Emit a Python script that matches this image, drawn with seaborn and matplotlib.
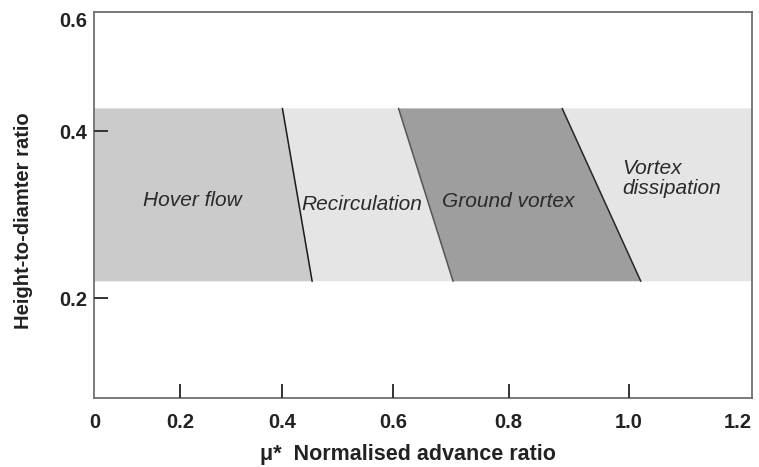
import numpy as np
import pandas as pd
import matplotlib
matplotlib.use("Agg")
import matplotlib.pyplot as plt
import seaborn as sns

# Axis ticks
x_ticks = [0, 0.2, 0.4, 0.6, 0.8, 1.0, 1.2]
x_tick_labels = ["0", "0.2", "0.4", "0.6", "0.8", "1.0", "1.2"]
y_ticks = [0.2, 0.4, 0.6]
y_tick_labels = ["0.2", "0.4", "0.6"]

# Height band covered by the flow-regime map
band_bottom = 0.216
band_top = 0.436

# Regime boundaries: advance ratio at the top and bottom of the band
edge_at_top = [0.40, 0.61, 0.89]
edge_at_bottom = [0.455, 0.705, 1.02]

regime_names = ["Hover flow", "Recirculation", "Ground vortex", "Vortex\ndissipation"]
regime_label_x = [0.225, 0.545, 0.800, 0.99]
regime_label_y = [0.305, 0.300, 0.303, 0.333]
regime_colors = ["#cbcbcb", "#e5e5e5", "#9e9e9e", "#e5e5e5"]
edge_colors = ["#1a1a1a", "#555555", "#262626"]

x_min, x_max = 0.0, 1.2
y_min, y_max = 0.124, 0.615

sns.set_theme(style="white")
plt.rcParams["font.family"] = ["Liberation Sans", "DejaVu Sans"]


# Stretched axes of the schematic
def x_fwd(v):
    v = np.asarray(v, dtype=float)
    return np.sign(v) * np.abs(v) ** 1.14


def x_inv(v):
    v = np.asarray(v, dtype=float)
    return np.sign(v) * np.abs(v) ** (1 / 1.14)


def y_fwd(v):
    v = np.asarray(v, dtype=float)
    return np.sign(v) * np.abs(v) ** 0.25


def y_inv(v):
    v = np.asarray(v, dtype=float)
    return np.sign(v) * np.abs(v) ** 4


fig = plt.figure(figsize=(7.59, 4.67), dpi=100)
ax = fig.add_axes([0.1245, 0.1478, 0.8663, 0.8265])
ax.set_xscale("function", functions=(x_fwd, x_inv))
ax.set_yscale("function", functions=(y_fwd, y_inv))

# Filled regime regions
lefts_top = [x_min] + edge_at_top
lefts_bot = [x_min] + edge_at_bottom
rights_top = edge_at_top + [x_max]
rights_bot = edge_at_bottom + [x_max]
for i, color in enumerate(regime_colors):
    xs = [lefts_bot[i], lefts_top[i], rights_top[i], rights_bot[i]]
    ys = [band_bottom, band_top, band_top, band_bottom]
    ax.fill(xs, ys, color=color, lw=0, zorder=1)

# Boundary lines between regimes
edges = pd.DataFrame({
    "mu": [v for pair in zip(edge_at_top, edge_at_bottom) for v in pair],
    "h": [band_top, band_bottom] * len(edge_at_top),
    "edge": [k for k in range(len(edge_at_top)) for _ in range(2)],
})
sns.lineplot(data=edges, x="mu", y="h", hue="edge", palette=edge_colors,
             estimator=None, sort=False, legend=False, lw=1.1, ax=ax, zorder=2)

# Regime labels
for name, lx, ly in zip(regime_names, regime_label_x, regime_label_y):
    ha = "left" if "\n" in name else "center"
    ax.text(lx, ly, name, ha=ha, va="center", fontsize=15, style="italic",
            color="#2a2a2a", linespacing=1.05, zorder=3)

ax.set_xlim(x_min, x_max)
ax.set_ylim(y_min, y_max)
ax.set_axisbelow(False)

ax.set_xticks(x_ticks)
ax.set_xticklabels(x_tick_labels)
ax.set_yticks(y_ticks)
ax.set_yticklabels(y_tick_labels)
ax.minorticks_off()
ax.tick_params(axis="both", direction="in", length=10, width=1.4,
               color="#333333", labelsize=14.5, labelcolor="#222222",
               bottom=True, left=True, top=False, right=False)
ax.tick_params(axis="x", pad=11)
ax.tick_params(axis="y", pad=5)
for lbl in ax.get_xticklabels() + ax.get_yticklabels():
    lbl.set_fontweight("bold")
ax.get_xticklabels()[-1].set_horizontalalignment("right")

# No tick marks where a tick sits on a frame edge
ax.yaxis.get_major_ticks()[-1].tick1line.set_visible(False)
ax.xaxis.get_major_ticks()[0].tick1line.set_visible(False)
ax.xaxis.get_major_ticks()[-1].tick1line.set_visible(False)

for side in ["top", "bottom", "left", "right"]:
    ax.spines[side].set_visible(True)
    ax.spines[side].set_color("#6f6f6f")
    ax.spines[side].set_linewidth(1.3)

ax.set_xlabel("\u03bc*  Normalised advance ratio", fontsize=15.5,
              fontweight="bold", color="#222222")
ax.set_ylabel("Height-to-diamter ratio", fontsize=14.5,
              fontweight="bold", color="#222222")
ax.xaxis.set_label_coords(0.476, -0.118)
ax.yaxis.set_label_coords(-0.093, 0.4585)

fig.savefig("out.png", dpi=100)
